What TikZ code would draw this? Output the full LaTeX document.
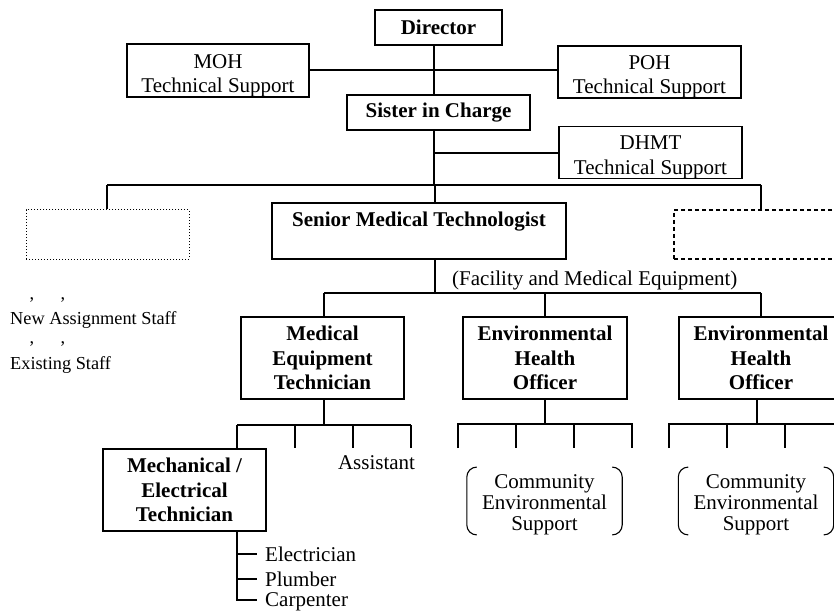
\documentclass[tikz,border=0pt]{standalone}
\usepackage{fontspec}
\setmainfont{Liberation Serif}
\newcommand\mfs{\fontsize{21}{24.5}\selectfont}
\newcommand\cfs{\fontsize{21}{21}\selectfont}
\newcommand\lfs{\fontsize{18.3}{20}\selectfont}
\newcommand\dn[1]{\rule{0pt}{#1}}
\begin{document}
\begin{tikzpicture}[x=1pt,y=-1pt,
  box/.style={draw,line width=1.1pt,inner sep=0pt,align=center,font=\mfs},
  bbox/.style={box,font=\mfs\bfseries},
  conn/.style={line width=1.8pt},
  txt/.style={inner sep=0pt,align=center,font=\mfs},
  ctxt/.style={inner sep=0pt,align=center,font=\cfs},
  brk/.style={line width=1.1pt,rounded corners=10pt},
  legtxt/.style={inner sep=0pt,anchor=west,font=\lfs}]
\useasboundingbox (0,0) rectangle (834,612);
\clip (0,0) rectangle (834,612);

% top level
\node[bbox,minimum width=127pt,minimum height=35pt] (dir) at (438.5,27.5) {Director};
\node[box,minimum width=182pt,minimum height=49pt] (moh) at (218,70.5) {\dn{24pt}MOH\\Technical Support};
\node[box,minimum width=183pt,minimum height=50pt] (poh) at (649.5,72) {\dn{23pt}POH\\Technical Support};
\node[bbox,minimum width=183pt,minimum height=35pt] (sis) at (438.5,112.5) {Sister in Charge};
\node[box,minimum width=183pt,minimum height=49pt] (dhmt) at (650.5,152.5) {\dn{23pt}DHMT\\Technical Support};

\coordinate (spine) at (434,0);
\coordinate (bar1) at (0,185);
\draw[conn] (dir.south -| spine) -- (sis.north -| spine);
\draw[conn] (moh.east) ++(0,-0.5) coordinate (mohe) (mohe) -- (mohe -| poh.west);
\draw[conn] (sis.south -| spine) -- (bar1 -| spine);
\coordinate (dh) at (434,153);
\draw[conn] (dh) -- (dh -| dhmt.west);

% second level
\node[draw,dotted,line width=1pt,minimum width=163pt,minimum height=49pt,inner sep=0pt] (lbox) at (107.5,234.5) {};
\node[draw,dash pattern=on 4pt off 3pt,line width=1.2pt,minimum width=163pt,minimum height=49pt,inner sep=0pt] (rbox) at (755.5,234.5) {};
\node[bbox,minimum width=294pt,minimum height=56pt] (smt) at (419,231) {\dn{22pt}Senior Medical Technologist\\\strut};

\coordinate (lv) at (107,0);
\coordinate (rv) at (761,0);
\coordinate (sv) at (435,0);
\draw[conn] (bar1 -| lv) -- (bar1 -| rv);
\draw[conn] (bar1 -| lv) -- (lbox.north -| lv);
\draw[conn] (bar1 -| rv) -- (rbox.north -| rv);
\draw[conn] (bar1 -| sv) -- (smt.north -| sv);

\node[txt,anchor=west] (fac) at (452,280) {(Facility and Medical Equipment)};

% third level
\coordinate (bar2) at (0,293);
\node[bbox,minimum width=163pt,minimum height=82pt] (met) at (322.5,358) {Medical\\Equipment\\Technician};
\node[bbox,minimum width=164pt,minimum height=82pt] (eho1) at (545,358) {Environmental\\Health\\Officer};
\node[bbox,minimum width=164pt,minimum height=82pt] (eho2) at (761,358) {Environmental\\Health\\Officer};
\coordinate (mv) at (324,0);
\coordinate (ev) at (545,0);
\draw[conn] (smt.south -| sv) -- (bar2 -| sv);
\draw[conn] (bar2 -| mv) -- (bar2 -| rv);
\draw[conn] (bar2 -| mv) -- (met.north -| mv);
\draw[conn] (bar2 -| ev) -- (eho1.north -| ev);
\draw[conn] (bar2 -| rv) -- (eho2.north -| rv);

% MET branch
\coordinate (b3) at (0,425);
\coordinate (t3) at (0,448);
\node[bbox,minimum width=163pt,minimum height=82pt] (mech) at (184.5,490) {Mechanical /\\Electrical\\Technician};
\node[txt] (asst) at (376.5,463) {Assistant};
\draw[conn] (met.south -| mv) -- (b3 -| mv);
\draw[conn] (237,425) coordinate (m1) -- (411,425) coordinate (m4);
\draw[conn] (m1) -- (mech.north -| m1);
\draw[conn] (295,425) -- (295,448);
\draw[conn] (353,425) -- (353,448);
\draw[conn] (m4) -- (m4 |- t3);

% EHO1 branch
\draw[conn] (eho1.south -| ev) -- (545,424);
\draw[conn] (458,448) -- (458,424) -- (632,424) -- (632,448);
\draw[conn] (516,424) -- (516,448);
\draw[conn] (574,424) -- (574,448);

% EHO2 branch
\coordinate (ev2) at (757,0);
\draw[conn] (eho2.south -| ev2) -- (757,424);
\draw[conn] (669,448) -- (669,424) -- (850,424);
\draw[conn] (727,424) -- (727,448);
\draw[conn] (785,424) -- (785,448);
\draw[conn] (843,424) -- (843,448);

% community support
\node[ctxt,minimum width=155pt,minimum height=58pt] (c1) at (544.5,501) {\dn{21pt}Community\\Environmental\\Support};
\node[ctxt,minimum width=155pt,minimum height=58pt] (c2) at (756,501) {\dn{21pt}Community\\Environmental\\Support};
\foreach \c in {c1,c2}{
  \draw[brk] ([xshift=10pt]\c.north west) -- (\c.north west) -- (\c.south west) -- ([xshift=10pt]\c.south west);
  \draw[brk] ([xshift=-10pt]\c.north east) -- (\c.north east) -- (\c.south east) -- ([xshift=-10pt]\c.south east);
}

% mechanical sub-list
\node[txt,anchor=west] (el) at (265,554) {Electrician};
\node[txt,anchor=west] (pl) at (265,579) {Plumber};
\node[txt,anchor=west] (ca) at (265,602) {Carpenter};
\coordinate (mx) at (237,0);
\coordinate (cb) at (0,600);
\draw[conn] (mech.south -| mx) -- (mx |- cb) -- ([xshift=-8pt]ca.west |- cb);
\draw[conn] (mx |- el) -- ([xshift=-8pt]el.west);
\draw[conn] (mx |- pl) -- ([xshift=-8pt]pl.west);

% legend
\node[legtxt,anchor=center] (k1) at (32,300) {,};
\node[legtxt,anchor=center] (k2) at (63,300) {,};
\node[legtxt] (lg1) at (10,320) {New Assignment Staff};
\node[legtxt,anchor=center] (k3) at (32,344) {,};
\node[legtxt,anchor=center] (k4) at (63,344) {,};
\node[legtxt] (lg2) at (10,365) {Existing Staff};
\end{tikzpicture}
\end{document}
